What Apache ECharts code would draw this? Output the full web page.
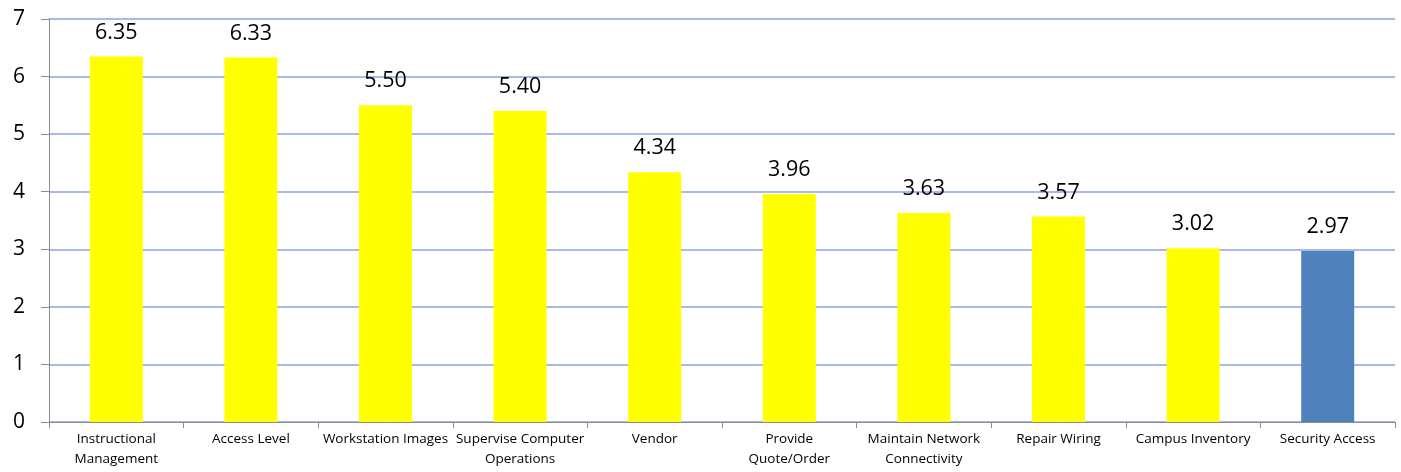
<!DOCTYPE html>
<html>
<head>
<meta charset="utf-8">
<style>
  html, body { margin: 0; padding: 0; background: #fff; }
  #chart { width: 1401px; height: 472px; }
</style>
<script src="https://cdn.jsdelivr.net/npm/echarts@6/dist/echarts.min.js"></script>
</head>
<body>
<div id="chart"></div>
<script>
// Average score per task area
const categories = [
  'Instructional\nManagement',
  'Access Level',
  'Workstation Images',
  'Supervise Computer\nOperations',
  'Vendor',
  'Provide\nQuote/Order',
  'Maintain Network\nConnectivity',
  'Repair Wiring',
  'Campus Inventory',
  'Security Access'
];
const scores = [6.35, 6.33, 5.50, 5.40, 4.34, 3.96, 3.63, 3.57, 3.02, 2.97];
const highlighted = ['Security Access'];
const yTicks = [0, 1, 2, 3, 4, 5, 6, 7];

const FONT = 'Open Sans, Lato, Noto Sans, sans-serif';

const chart = echarts.init(document.getElementById('chart'), null, { renderer: 'canvas' });

chart.setOption({
  animation: false,
  backgroundColor: '#ffffff',
  grid: { left: 49, right: 6, top: 19, bottom: 50, containLabel: false },
  xAxis: {
    type: 'category',
    data: categories,
    axisLine: { show: true, lineStyle: { color: '#8c8c8c', width: 1 } },
    axisTick: { show: true, alignWithLabel: false, length: 6, lineStyle: { color: '#8c8c8c' } },
    axisLabel: {
      interval: 0,
      color: '#000',
      fontFamily: FONT,
      fontSize: 13.5,
      lineHeight: 20,
      margin: 7
    },
    splitLine: { show: false }
  },
  yAxis: {
    type: 'value',
    min: yTicks[0],
    max: yTicks[yTicks.length - 1],
    interval: 1,
    axisLine: { show: true, lineStyle: { color: '#8c8c8c', width: 1 } },
    axisTick: { show: true, length: 8, lineStyle: { color: '#8c8c8c' } },
    axisLabel: {
      color: '#000',
      fontFamily: FONT,
      fontSize: 21,
      margin: 24
    },
    splitLine: { show: true, lineStyle: { color: '#a7bbe6', width: 2 } }
  },
  series: [{
    type: 'bar',
    barWidth: 53,
    data: scores.map((v, i) => ({
      value: v,
      itemStyle: { color: highlighted.includes(categories[i]) ? '#4f81bd' : '#ffff00' }
    })),
    label: {
      show: true,
      position: 'top',
      distance: 13,
      color: '#000',
      fontFamily: FONT,
      fontSize: 21.5,
      formatter: p => p.value.toFixed(2)
    }
  }]
});
</script>
</body>
</html>
